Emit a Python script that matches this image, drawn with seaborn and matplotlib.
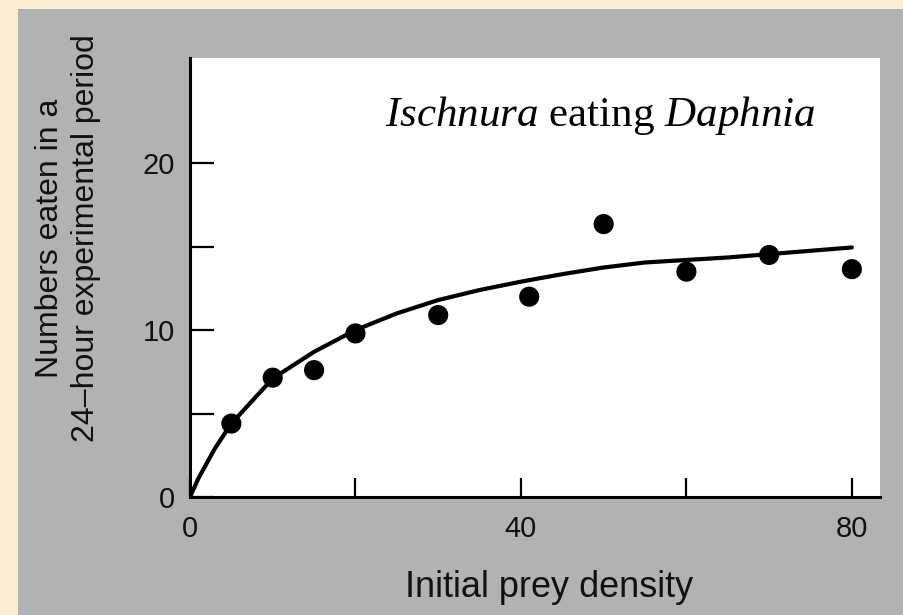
import matplotlib
matplotlib.use("Agg")
import matplotlib.pyplot as plt
import seaborn as sns
import pandas as pd

# dados
densidade = [5, 10, 15, 20, 30, 41, 50, 60, 70, 80]
comidos = [4.4, 7.15, 7.6, 9.8, 10.9, 12.0, 16.35, 13.5, 14.5, 13.65]

# curva desenhada a mao
curva_x = [0, 1, 3, 5, 10, 15, 20, 25, 30, 35, 40, 45, 50, 55, 60, 65, 70, 75, 80]
curva_y = [0, 1.1, 2.9, 4.4, 7.1, 8.7, 10.0, 11.0, 11.8, 12.4, 12.9, 13.35, 13.75, 14.05,
           14.2, 14.35, 14.55, 14.75, 14.95]

x_ticks = [0, 20, 40, 60, 80]
x_labels = ["0", "", "40", "", "80"]
y_ticks = [0, 5, 10, 15, 20]
y_labels = ["0", "", "10", "", "20"]

sns.set_style("white")
plt.rcParams["font.family"] = ["Liberation Sans", "DejaVu Sans"]
plt.rcParams["mathtext.fontset"] = "custom"
plt.rcParams["mathtext.rm"] = "Liberation Serif"
plt.rcParams["mathtext.it"] = "Liberation Serif:italic"

tabela = pd.DataFrame({"x": densidade, "y": comidos})
tabela_curva = pd.DataFrame({"x": curva_x, "y": curva_y})

fig = plt.figure(figsize=(9.04, 6.15), dpi=100)
fig.patch.set_facecolor("#fbefd2")
# area cinza do scan
fig.add_artist(plt.Rectangle((18 / 904, 0), 1, 1 - 9 / 615, transform=fig.transFigure,
                             facecolor="#b2b2b2", edgecolor="none", zorder=0))

ax = fig.add_axes([190 / 904, 118 / 615, 690 / 904, 439 / 615])
ax.set_facecolor("white")

sns.lineplot(data=tabela_curva, x="x", y="y", sort=False, estimator=None,
             color="black", linewidth=3, ax=ax)
sns.scatterplot(data=tabela, x="x", y="y", color="black", s=210, edgecolor="none",
                ax=ax, zorder=3)

ax.set_xlim(0, 83.4)
ax.set_ylim(0, 26.3)
ax.set_xticks(x_ticks)
ax.set_xticklabels(x_labels)
ax.set_yticks(y_ticks)
ax.set_yticklabels(y_labels)
ax.tick_params(axis="x", bottom=True, direction="in", length=14, width=1.6, pad=13,
               labelsize=21, color="black", labelcolor="#111111")
ax.tick_params(axis="y", left=True, direction="in", length=17, width=1.6, pad=11,
               labelsize=21, color="black", labelcolor="#111111")
ax.set_xlabel("")
ax.set_ylabel("")

sns.despine(ax=ax)
for lado in ["left", "bottom"]:
    ax.spines[lado].set_linewidth(2.2)
    ax.spines[lado].set_color("black")

ax.text(75.6, 22.2, r"$\it{Ischnura}$ eating $\it{Daphnia}$", fontsize=31,
        ha="right", va="baseline", family="Liberation Serif", color="black")

fig.text(549 / 904, 1 - 597 / 615, "Initial prey density", fontsize=26,
         ha="center", va="baseline", color="#111111")
fig.text(68 / 904, 1 - 238 / 615, "Numbers eaten in a\n24\u2013hour experimental period",
         fontsize=23, rotation=90, ha="center", va="center", multialignment="center",
         linespacing=1.3, color="#111111")

fig.savefig("out.png", dpi=100, facecolor=fig.get_facecolor())
